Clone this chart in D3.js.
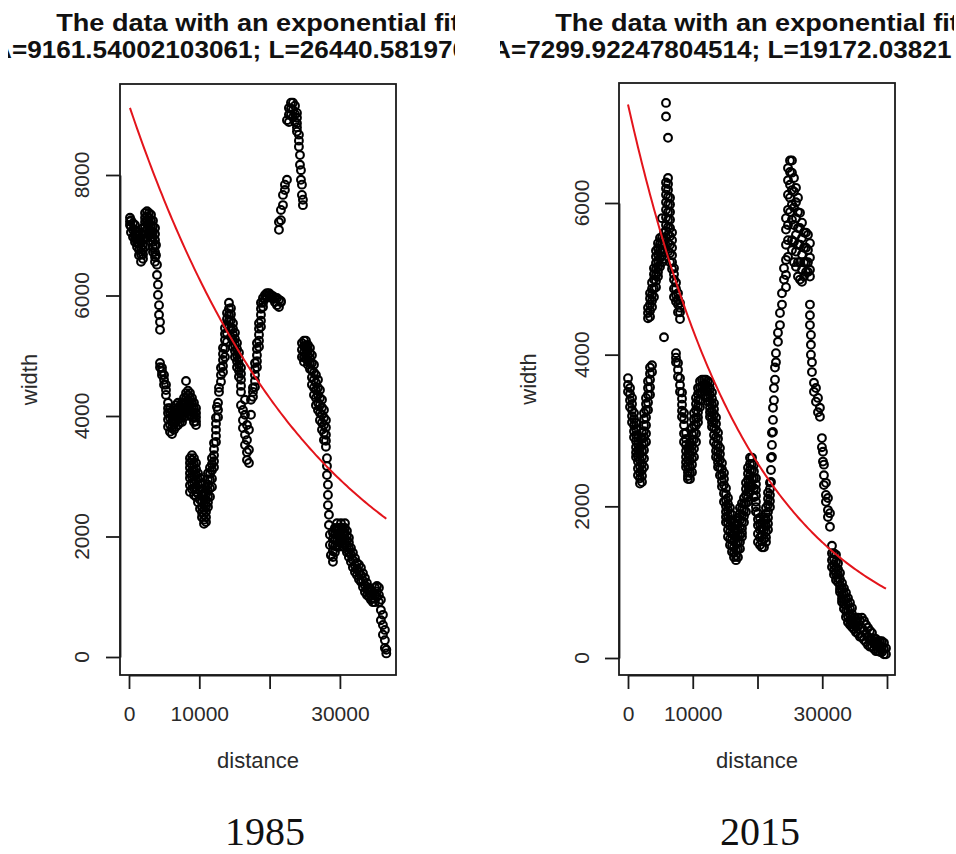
<!DOCTYPE html>
<html>
<head>
<meta charset="utf-8">
<script src="https://cdn.jsdelivr.net/npm/d3@7"></script>
<style>
  body { margin: 0; background: #fff; }
  svg { display: block; }
  .r-text { font-family: 'Liberation Sans', Arial, sans-serif; fill: #2a2a2a; }
  .r-title { font-family: 'Liberation Sans', Arial, sans-serif; font-weight: bold; fill: #111; }
  .year { font-family: 'Liberation Serif', 'Times New Roman', serif; fill: #111; }
</style>
</head>
<body>
<svg id="chart" width="956" height="854"></svg>
<script>
'use strict';

// each row: [distance, width values seen at that distance ...]
var obs1985 = [
  [140,7290,7230,7170],[280,7250,7150,7050],[570,7200,7090,6970],[850,7170,7090,7020,6950,6890],
  [1140,7070,7000,6940,6870,6810],[1420,7010,6930,6860,6760,6670],[1710,6960,6870,6790,6680,6560],
  [1990,7120,7020,6920,6840,6760,6680,6610],[2280,7370,7290,7220,7140,7060,6940,6810],
  [2560,7400,7310,7220,7100,6970],[2840,7370,7290,7220,7140,7060],[3130,7340,7240,7150,7060,6970],
  [3410,7240,7150,7060,6970,6890,6800,6720],[3700,7120,7020,6920,6820,6720,6640,6560],
  [3840,6840,6670],[3980,6510,6340],[4120,6180,6010],[4270,5840,5680],[4410,5560,5430,4880,4810],
  [4690,4800,4740,4680],[4980,4680,4600,4520],[5260,4520,4430,4350],
  [5550,4220,4130,4050,3940,3820],[5830,4130,4050,3970,3860,3740],[6120,4080,3990,3900,3800,3700],
  [6400,4130,4040,3950,3860,3770],[6680,4180,4090,4000,3910,3820],[6970,4220,4120,4030,3940,3850],
  [7250,4170,4090,4020,3960,3900],[7540,4220,4130,4050,3970,3900],[7820,4300,4210,4130,4050,3980],
  [8110,4580,4380,4300,4220,4140,4070],[8390,4420,4340,4270,4190,4120],
  [8670,4380,4300,4220,4120,4020,3300,3220,3140,3050,2970,2850,2740],
  [8960,4300,4220,4150,4060,3980,3350,3270,3190,3090,2990,2890,2790],
  [9240,4220,4130,4050,3970,3900,3300,3200,3100,3000,2910,2800,2690],
  [9530,4130,4050,3980,3910,3850,3220,3120,3020,2920,2820,2740,2660],
  [9810,3050,2950,2860,2710,2570],[10100,2970,2870,2770,2610,2460],
  [10380,2890,2790,2690,2590,2490,2400,2320],[10670,2720,2620,2520,2440,2360,2280,2210],
  [10950,2810,2710,2610,2510,2410,2320,2240],[11230,3050,2950,2860,2760,2660,2570,2490],
  [11520,3140,3040,2940,2800,2660],[11800,3300,3200,3100,2960,2820],[12090,3550,3450,3350,3250,3150],
  [12370,3970,3870,3770,3670,3570],[12510,4150],[12660,4220,4100,3980],
  [12800,4470,4400],[13080,4800,4680,4570],[13370,5130,5030,4930,4830,4730],
  [13650,5460,5360,5260,5120,4980],[13940,5710,5610,5510,5370,5230],[14220,5880,5780,5680,5580,5480],
  [14500,5790,5690,5590,5450,5310],[14790,5540,5450,5350,5250,5150],[15070,5380,5280,5180,5080,4980],
  [15360,5210,5110,5010,4910,4810],[15640,5050,4950,4850,4750,4650],[15930,4800,4700,4600,4500,4400,4180],
  [16210,4100,3930,3800],[16500,4270,4020,3690,3520],[16780,3850,3600,3400,3270],[17060,3770,3440,3220],
  [17350,4270,4020],[17630,4470,4400,4320],[17920,4880,4780,4680,4580,4480],
  [18200,5210,5110,5010,4910,4810],[18490,5540,5450,5350,5250,5150],[18770,5880,5780,5680,5580,5480],
  [19060,5960,5880,5810],[19340,6010,5940],[19620,6040,5980],[19910,6040,6010],[20190,6010,5980],
  [20480,5990,5940],[20760,5960,5890],[21050,5960,5840],[21330,5930,5810,7090,7220],
  [21610,5910,5890,7250,7420],[21900,7500,7670],[22180,7750,7840],[22470,7920,8910],
  [22750,9110,9000,8880],[23040,9200,9100,9000],[23320,9200,9080,8960],[23610,9150,9010,8880],
  [23890,9030,8950,8860,8790,8720],[24170,8670,8570,8470],[24320,8330,8170],[24460,8080,7920],
  [24600,7840,7670,5210,5100,4980],[24740,7590,7500],[24890,5250,5160,5060,4980,4900],
  [25170,5250,5170,5100,5020,4950],[25450,5180,5100,5010,4930,4850],[25740,5130,5040,4960,4870,4780],
  [26020,5010,4880,4760,4640,4520],[26310,4850,4720,4600,4470,4350],[26590,4680,4550,4430,4300,4180],
  [26880,4600,4470,4350,4220,4100],[27160,4430,4300,4180,4050,3930],[27450,4270,4140,4020,3890,3770],
  [27730,4100,3970,3850,3720,3600],[28010,3930,3810,3690,3590,3490],[28160,3300,3170,3020],
  [28300,2860,2690,2520],[28440,2360,2190],[28580,2030,1860],[28720,1690],
  [29010,2060,1960,1860,1760,1660,1580],[29290,2140,2040,1940,1840,1740],
  [29580,2220,2120,2030,1930,1830],[29860,2140,2060,1980,1900,1830],[30150,2220,2150,2080,2000,1910],
  [30430,2140,2060,1980,1900,1830],[30720,2220,2140,2060,1960,1860],[31000,2090,2010,1930,1840,1740],
  [31280,1980,1900,1810,1740,1660],[31570,1810,1700,1580],[31850,1730,1610,1490],[32140,1640,1520,1410],
  [32420,1560,1460,1360],[32710,1530,1410,1290],[32990,1480,1360,1250],[33280,1390,1270,1160],
  [33560,1310,1190,1080],[33840,1230,1130,1030],[34130,1150,1070,1000],[34410,1100,1020,950],
  [34700,1060,980,910],[34980,1150,1030,910],[35270,1180,1090,1000],[35550,1150,1030,910],
  [35830,950,780,610],[36120,700,530,370],[36400,450,280,150],[36600,120,60]
];

var obs2015 = [
  [0,3690,3600,3510],[310,3560,3480,3400,3310],[620,3430,3350,3270,3190,3110],
  [930,3230,3150,3070,2990,2910],[1240,3100,3020,2940,2860,2780,2710,2650],
  [1540,2900,2820,2740,2660,2590,2500,2410],[1850,2770,2690,2610,2530,2450,2370,2300],
  [2160,2970,2890,2810,2730,2650,2560,2480,2400,2320],[2470,3230,3150,3070,2990,2910,2830,2740,2630,2520],
  [2780,3430,3350,3270,3170,3070,2960,2850],[3090,3650,3560,3470,3370,3270,4620,4550,4480],
  [3400,3830,3750,3670,3570,3470,4810,4740,4660,4580,4500],[3710,3860,3770,4950,4870,4790,4710,4630],
  [4010,5140,5060,4990,4870,4760],[4320,5370,5290,5210,5130,5050,4970,4890],
  [4630,5470,5400,5320,5240,5160,5090,5030],[4940,5540,5460,5380,5270,5160],
  [5250,5800,5540,5460,5380,5300,5220],[5560,5610,5530,5450,5350,5260,4230],
  [5870,7320,7140,6270,6190,6110,6010,5910,5810,5710,5630,5550],
  [6180,6860,6330,6250,6170,6080,5980,5880,5780,5680,5580,5470,5360],
  [6490,6070,5980,5880,5780,5670,5560,5450,5340,5220],[6800,5610,5510,5410,5310,5220,5130],
  [7100,5140,5060,4990,4870,4760],[7410,4950,4870,4790,4700,4020,3960,3900],
  [7720,4810,4730,4660,4560,3890,3800,3710],[8030,4680,4620,4560,4470,3690,3600,3510],
  [8340,3500,3420,3340,3260,3180],[8650,3230,3150,3070,2960,2850],
  [8960,2970,2890,2810,2730,2650,2580,2520],[9260,2770,2690,2610,2530,2450,2400,2360],
  [9570,2840,2760,2680,2600,2520,2440,2360],[9880,3030,2950,2880,2800,2720,2630,2550,2450],
  [10190,3230,3150,3070,2970,2880,2760,2650],[10500,3430,3350,3270,3170,3070,2960,2850],
  [10810,3560,3480,3400,3320,3240,3170,3110],[11120,3650,3570,3500,3400,3310],
  [11430,3670,3590,3510],[11740,3670,3590,3510],[12040,3670,3600,3530,3440],
  [12350,3650,3580,3510,3440,3380],[12660,3630,3550,3470,3380,3300,3240,3180],
  [12970,3500,3420,3340,3250,3170,3110,3050],[13280,3360,3280,3210,3120,3030,2940,2850],
  [13590,3170,3090,3010,2910,2810,2730,2650],[13900,2970,2890,2810,2720,2640,2580,2520],
  [14200,2770,2690,2610,2510,2410],[14510,2570,2490,2410,2330,2260],[14820,2440,2360,2280,2170,2060],
  [15130,2240,2160,2080,2000,1930,1860,1790],[15440,2110,2030,1950,1870,1790,1690,1600],
  [15750,1980,1900,1820,1740,1660,1570,1490],[16060,1890,1810,1730,1640,1560,1480,1400],
  [16370,1780,1700,1620,1540,1460,1390,1330],[16680,1750,1670,1600,1510,1420,1350,1290],
  [16980,1850,1770,1690,1610,1530,1430,1330],[17290,1980,1900,1820,1720,1620,1530,1440],
  [17600,2040,1960,1890,1800,1710,1650,1600],[17910,2110,2030,1950,1870,1790],
  [18220,2310,2230,2150,2040,1930],[18530,2510,2430,2350,2270,2190,2120,2060],
  [18840,2640,2560,2480,2400,2320,2250,2190],[19150,2640,2560,2480,2370,2260],
  [19450,2550,2460,2370,2240,2120],[19760,2370,2290,2220,2140,2060,1990,1930],
  [20070,1910,1830,1750,1640,1530],[20380,1850,1770,1690,1590,1490],[20690,1780,1700,1620,1540,1460],
  [21000,1850,1770,1690,1570,1460],[21310,1980,1900,1820,1740,1660,1590,1530],
  [21620,2180,2100,2020,1930,1850,1770,1690],[21920,2310,2230,2150,2070,1990],
  [22080,2640,2480,2320],[22230,2970,2810,2650],[22390,3300,3140,2980],
  [22540,3560,3400],[22700,3830,3670],[22850,4020,3900],[23160,4290,4170],
  [23470,4550,4390],[23780,4810,4660],[24090,5140,4990],
  [24400,5800,5650,5450,5250,5050,4890],[24710,6460,6300,6110,5910,5710,5510,5290],
  [25020,6560,6410,6240,6070,5880],[25320,6560,6400,6170,5980,5780,5510,5380],
  [25630,6330,6150,5940,5710,5490,5220],[25940,6200,6010,5800,5580,5360,5160],
  [26250,6070,5880,5670,5450,5220,5030],[26560,5870,5670,5450,5220,4990],
  [26870,5740,5540,5320,5120,4960],[27180,5610,5410,5220,5030],[27490,5610,5410,5220,5090],
  [27790,5580,5380,5220,5090],[28100,5470,5280,5120,5030,4660,4520,4390],
  [28250,4260,4130,4000],[28410,3900,3770],[28720,3630,3510],[29030,3560,3380],
  [29340,3430,3240],[29640,3300,3180],[29950,2900,2780],[30110,2720,2590],
  [30260,2550,2410,2280],[30570,2310,2150,2060],[30880,2110,1950,1860],[31190,1910,1730],
  [31500,1480,1380,1290,1200],[31810,1380,1300,1230,1160,1100],[32120,1360,1270,1190,1110,1030],
  [32430,1250,1170,1100,1050,1000],[32740,1120,1040,960,910,870],[33050,990,910,830,780,740],
  [33350,920,840,770,710,650],[33660,860,780,700,620,540],[33970,790,710,630,550,470],
  [34280,730,650,570,500,440],[34590,660,580,500,450,410],[34900,530,450,380],[35210,490,410,340],
  [35520,530,420,320],[35820,490,380,280],[36130,530,400,280],[36440,490,360,240],
  [36750,440,320,210],[37060,400,280,170],[37370,360,250,150],[37680,330,240,150],
  [37990,260,190,120],[38300,250,170,90],[38610,220,150,90],[38920,220,150,80],
  [39220,220,150,80],[39530,200,120,50],[39840,130,50]
];

// exponential fit  width = A * exp(-distance / L)
var fit1985 = [9161.54002103061, 26440.58197];
var fit2015 = [7299.92247804514, 19172.03821];

var xTicks1985 = [0, 10000, 20000, 30000];
var xTickLabels1985 = ['0', '10000', '', '30000'];
var yTicks1985 = [0, 2000, 4000, 6000, 8000];

var xTicks2015 = [0, 10000, 20000, 30000, 40000];
var xTickLabels2015 = ['0', '10000', '', '30000', ''];
var yTicks2015 = [0, 2000, 4000, 6000];

var titleMain = 'The data with an exponential fit';
var titleFit1985 = 'A=9161.54002103061; L=26440.581970';
var titleFit2015 = 'A=7299.92247804514; L=19172.03821';


var svg = d3.select('#chart');

svg.append('rect')
  .attr('width', 956)
  .attr('height', 854)
  .attr('fill', '#fff');


function drawPanel(p) {

  svg.append('clipPath')
    .attr('id', p.id + '-clip')
  .append('rect')
    .attr('x', p.clip[0])
    .attr('y', 0)
    .attr('width', p.clip[1] - p.clip[0])
    .attr('height', 800);

  var g = svg.append('g')
    .attr('clip-path', 'url(#' + p.id + '-clip)');

  var x = d3.scaleLinear().domain(p.xDomain).range(p.xRange);
  var y = d3.scaleLinear().domain(p.yDomain).range(p.yRange);

  // titles (wider than the image, cut by the crop)
  g.append('text')
    .attr('class', 'r-title')
    .attr('transform', 'translate(' + p.titleCx + ',31) scale(1.13,1)')
    .attr('text-anchor', 'middle')
    .style('font-size', '24px')
    .text(titleMain);

  g.append('text')
    .attr('class', 'r-title')
    .attr('transform', 'translate(' + p.fitTextX + ',58) scale(1.09,1)')
    .attr('text-anchor', 'start')
    .style('font-size', '24px')
    .text(p.fitText);

  // points
  var pts = [];
  p.obs.forEach(function(row) {
    row.slice(1).forEach(function(w) { pts.push([row[0], w]); });
  });

  g.append('g')
    .selectAll('circle')
    .data(pts)
    .enter().append('circle')
      .attr('cx', function(d) { return x(d[0]); })
      .attr('cy', function(d) { return y(d[1]); })
      .attr('r', 3.9)
      .attr('fill', 'none')
      .attr('stroke', '#000')
      .attr('stroke-width', 2.1);

  // fitted curve
  var A = p.fit[0], L = p.fit[1];
  var lineGen = d3.line()
    .x(function(d) { return x(d); })
    .y(function(d) { return y(A * Math.exp(-d / L)); });

  g.append('path')
    .datum(p.obs.map(function(r) { return r[0]; }))
    .attr('fill', 'none')
    .attr('stroke', '#e3141b')
    .attr('stroke-width', 2)
    .attr('d', lineGen);

  // box
  g.append('rect')
    .attr('x', p.box[0])
    .attr('y', p.box[1])
    .attr('width', p.box[2] - p.box[0])
    .attr('height', p.box[3] - p.box[1])
    .attr('fill', 'none')
    .attr('stroke', '#1a1a1a')
    .attr('stroke-width', 1.8);

  // x axis
  var xAxis = d3.axisBottom(x)
    .tickValues(p.xTicks)
    .tickSize(14)
    .tickSizeOuter(0)
    .tickPadding(17)
    .tickFormat(function(d, i) { return p.xLabels[i]; });

  var xg = g.append('g')
    .attr('transform', 'translate(0,' + p.box[3] + ')')
    .call(xAxis);
  xg.selectAll('line, path').attr('stroke', '#1a1a1a').attr('stroke-width', 1.8);
  xg.selectAll('text')
    .attr('class', 'r-text')
    .style('font-size', '21px')
    .attr('font-family', null);

  // y axis, labels turned as in R
  var yAxis = d3.axisLeft(y)
    .tickValues(p.yTicks)
    .tickSize(14)
    .tickSizeOuter(0)
    .tickFormat('');

  var yg = g.append('g')
    .attr('transform', 'translate(' + p.box[0] + ',0)')
    .call(yAxis);
  yg.selectAll('line, path').attr('stroke', '#1a1a1a').attr('stroke-width', 1.8);

  g.append('g')
    .selectAll('text')
    .data(p.yTicks)
    .enter().append('text')
      .attr('class', 'r-text')
      .attr('text-anchor', 'middle')
      .style('font-size', '21px')
      .attr('transform', function(d) {
        return 'translate(' + p.yLabelX + ',' + y(d) + ') rotate(-90)';
      })
      .text(function(d) { return d; });

  // axis titles
  var cx = (p.box[0] + p.box[2]) / 2;
  var cy = (p.box[1] + p.box[3]) / 2;

  g.append('text')
    .attr('class', 'r-text')
    .attr('text-anchor', 'middle')
    .attr('x', cx)
    .attr('y', 768)
    .style('font-size', '22px')
    .text('distance');

  g.append('text')
    .attr('class', 'r-text')
    .attr('text-anchor', 'middle')
    .attr('transform', 'translate(' + p.yTitleX + ',' + cy + ') rotate(-90)')
    .style('font-size', '22px')
    .text('width');

  // year caption under the figure
  svg.append('text')
    .attr('class', 'year')
    .attr('text-anchor', 'middle')
    .attr('x', p.yearX)
    .attr('y', 845)
    .style('font-size', '40px')
    .text(p.year);

} // function drawPanel(...)


drawPanel({
  id: 'p1985', year: '1985', obs: obs1985, fit: fit1985, fitText: titleFit1985,
  clip: [8, 455], box: [120, 84, 396, 675],
  xDomain: [0, 30000], xRange: [129, 339.9], yDomain: [0, 8000], yRange: [657, 175],
  xTicks: xTicks1985, xLabels: xTickLabels1985, yTicks: yTicks1985,
  titleCx: 258, fitTextX: -7, yLabelX: 89, yTitleX: 37, yearX: 265
});

drawPanel({
  id: 'p2015', year: '2015', obs: obs2015, fit: fit2015, fitText: titleFit2015,
  clip: [500, 954], box: [619, 83, 895, 675],
  xDomain: [0, 40000], xRange: [628, 887], yDomain: [0, 6000], yRange: [658, 203],
  xTicks: xTicks2015, xLabels: xTickLabels2015, yTicks: yTicks2015,
  titleCx: 757, fitTextX: 492, yLabelX: 589, yTitleX: 536, yearX: 760
});
</script>
</body>
</html>
